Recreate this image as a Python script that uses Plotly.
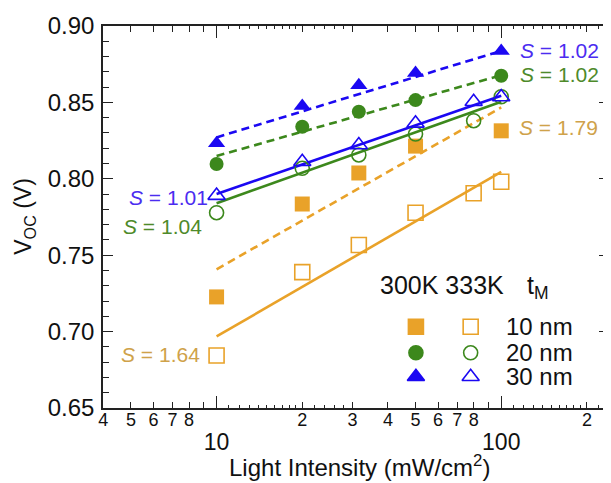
import math
import plotly.graph_objects as go

# ---------------- data ----------------
x_300K = [10, 20, 31.6, 50, 100]
x_333K = [10, 20, 31.6, 50, 80, 100]

voc_10nm_300K = [0.7227, 0.7835, 0.8038, 0.8214, 0.8314]
voc_10nm_333K = [0.6844, 0.7389, 0.7567, 0.7778, 0.7905, 0.7981]
voc_20nm_300K = [0.8097, 0.8341, 0.8439, 0.8515, 0.8674]
voc_20nm_333K = [0.7778, 0.8069, 0.8156, 0.8293, 0.8380, 0.8537]
voc_30nm_300K = [0.8232, 0.8476, 0.8613, 0.8693, 0.8837]
voc_30nm_333K = [0.7890, 0.8112, 0.8221, 0.8363, 0.8504, 0.8535]

fit_x = [10, 100]
fit_10nm_300K = [0.7408, 0.8467]
fit_10nm_333K = [0.6968, 0.8046]
fit_20nm_300K = [0.8149, 0.8678]
fit_20nm_333K = [0.7840, 0.8504]
fit_30nm_300K = [0.8271, 0.8837]
fit_30nm_333K = [0.7901, 0.8543]

slope_labels = ["S = 1.02", "S = 1.02", "S = 1.79", "S = 1.01", "S = 1.04", "S = 1.64"]

thickness_labels = ["10 nm", "20 nm", "30 nm"]
temp_labels = ["300K", "333K"]

x_tick_vals = [4, 5, 6, 7, 8, 20, 30, 40, 50, 60, 70, 80, 200]
x_tick_text = ["4", "5", "6", "7", "8", "2", "3", "4", "5", "6", "7", "8", "2"]
x_plain_vals = [9, 90]
x_minor_vals = [11, 12, 13, 14, 15, 16, 17, 18, 19, 22, 24, 26, 28,
                110, 120, 130, 140, 150, 160, 170, 180, 190, 220]
x_major_vals = [10, 100]
x_major_text = ["10", "100"]
y_tick_vals = [0.65, 0.70, 0.75, 0.80, 0.85, 0.90]

# ---------------- style ----------------
ORANGE = "#E9A229"
GREEN = "#3C881C"
BLUE = "#1B08F2"
T_ORANGE = "#CFA24A"
T_GREEN = "#4E8A2A"
T_BLUE = "#4B2CF0"
AX = "#222222"
FONT = "Liberation Sans, Arial, sans-serif"

OFF = 8                      # default page body margin
W, H = 611 - OFF, 483 - OFF  # figure size (fills the window after the offset)
L = 102.6 - OFF
R = 0
T = 25.8 - OFF
B = H - (408.3 - OFF)
PW, PH = W - L - R, H - T - B
XLO = math.log10(3.99)
XHI = XLO + PW / 286.0


def px(xpix):
    """screen x pixel -> paper fraction"""
    return (xpix - OFF - L) / PW


def py(ypix):
    """screen y pixel -> paper fraction"""
    return (H - B - (ypix - OFF)) / PH


fig = go.Figure()

series = [
    (x_300K, voc_10nm_300K, "square", ORANGE, True),
    (x_333K, voc_10nm_333K, "square-open", ORANGE, False),
    (x_300K, voc_20nm_300K, "circle", GREEN, True),
    (x_333K, voc_20nm_333K, "circle-open", GREEN, False),
    (x_300K, voc_30nm_300K, "triangle-up", BLUE, True),
    (x_333K, voc_30nm_333K, "triangle-up-open", BLUE, False),
]
fits = [
    (fit_10nm_300K, ORANGE, "dash"),
    (fit_10nm_333K, ORANGE, "solid"),
    (fit_20nm_300K, GREEN, "dash"),
    (fit_20nm_333K, GREEN, "solid"),
    (fit_30nm_300K, BLUE, "dash"),
    (fit_30nm_333K, BLUE, "solid"),
]

for yv, col, dash in fits:
    fig.add_trace(go.Scatter(
        x=fit_x, y=yv, mode="lines", showlegend=False, hoverinfo="skip",
        line=dict(color=col, width=2.6, dash="8px,5px" if dash == "dash" else "solid")))

for xv, yv, sym, col, filled in series:
    size = 14 if "circle" in sym else 15
    fig.add_trace(go.Scatter(
        x=xv, y=yv, mode="markers", showlegend=False,
        marker=dict(symbol=sym, size=size, color=col,
                    line=dict(color=col, width=1.6 if not filled else 0))))

# empty traces bound to the overlay axes carrying extra tick marks
fig.add_trace(go.Scatter(x=[], y=[], xaxis="x2", yaxis="y", showlegend=False))
fig.add_trace(go.Scatter(x=[], y=[], xaxis="x4", yaxis="y", showlegend=False))

# legend glyphs on a hidden 0..1 overlay axis
leg_cols = [px(417), px(472)]
leg_rows = [py(327), py(353), py(377)]
leg_syms = [("square", "square-open", ORANGE, 15),
            ("circle", "circle-open", GREEN, 14),
            ("triangle-up", "triangle-up-open", BLUE, 15)]
for (s_f, s_o, col, sz), ry in zip(leg_syms, leg_rows):
    fig.add_trace(go.Scatter(
        x=leg_cols, y=[ry, ry], mode="markers", xaxis="x3", yaxis="y3",
        showlegend=False, hoverinfo="skip",
        marker=dict(symbol=[s_f, s_o], size=sz, color=col,
                    line=dict(color=col, width=1.6))))

ann = []
# slope labels
slope_pos = [
    (520, 50, "left", T_BLUE),
    (520, 74, "left", T_GREEN),
    (519, 127, "left", T_ORANGE),
    (210, 198, "right", T_BLUE),
    (204, 227, "right", T_GREEN),
    (202, 355, "right", T_ORANGE),
]
for txt, (xp, yp, anc, col) in zip(slope_labels, slope_pos):
    ann.append(dict(x=px(xp), y=py(yp), xref="paper", yref="paper",
                    text="<i>S</i>" + txt[1:], showarrow=False,
                    xanchor=anc, yanchor="middle",
                    font=dict(family=FONT, size=21, color=col)))

# legend texts
ann.append(dict(x=px(379), y=py(285), xref="paper", yref="paper",
                text=temp_labels[0] + " " + temp_labels[1], showarrow=False,
                xanchor="left", yanchor="middle",
                font=dict(family=FONT, size=25, color="#111")))
ann.append(dict(x=px(527), y=py(287), xref="paper", yref="paper",
                text="t<sub>M</sub>", showarrow=False,
                xanchor="left", yanchor="middle",
                font=dict(family=FONT, size=25, color="#111")))
for txt, ry in zip(thickness_labels, leg_rows):
    ann.append(dict(x=px(505), y=ry, xref="paper", yref="paper",
                    text=txt, showarrow=False, xanchor="left", yanchor="middle",
                    font=dict(family=FONT, size=24, color="#111")))

# axis titles
ann.append(dict(x=px(360), y=py(466), xref="paper", yref="paper",
                text="Light Intensity (mW/cm<sup>2</sup>)", showarrow=False,
                xanchor="center", yanchor="middle",
                font=dict(family=FONT, size=24, color="#111")))
ann.append(dict(x=px(24), y=py(216), xref="paper", yref="paper",
                text="V<sub>OC</sub> (V)", showarrow=False, textangle=-90,
                xanchor="center", yanchor="middle",
                font=dict(family=FONT, size=23, color="#111")))

common_x = dict(type="log", range=[XLO, XHI], showgrid=False, zeroline=False)

fig.update_layout(
    width=W, height=H, autosize=False,
    margin=dict(l=L, r=R, t=T, b=B, pad=0),
    paper_bgcolor="white", plot_bgcolor="white",
    showlegend=False,
    annotations=ann,
    xaxis=dict(
        **common_x,
        tickmode="array", tickvals=x_tick_vals, ticktext=x_tick_text,
        ticks="inside", ticklen=6, tickwidth=1.3, tickcolor=AX,
        showline=True, linecolor=AX, linewidth=1.6, mirror="ticks",
        ticklabelstandoff=-5,
        tickfont=dict(family="Liberation Sans Narrow, " + FONT, size=18, color="#111"),
        minor=dict(tickmode="array", tickvals=x_minor_vals, ticks="inside",
                   ticklen=3, tickwidth=1.2, tickcolor=AX, showgrid=False),
    ),
    xaxis2=dict(
        **common_x, overlaying="x", anchor="y", side="bottom",
        tickmode="array", tickvals=x_major_vals, ticktext=x_major_text,
        ticks="inside", ticklen=12, tickwidth=1.4, tickcolor=AX,
        showline=False, mirror="ticks",
        ticklabelstandoff=18,
        tickfont=dict(family=FONT, size=23, color="#111"),
    ),
    xaxis4=dict(
        **common_x, overlaying="x", anchor="y", side="bottom",
        tickmode="array", tickvals=x_plain_vals, showticklabels=False,
        ticks="inside", ticklen=6, tickwidth=1.3, tickcolor=AX,
        showline=False, mirror="ticks",
    ),
    yaxis=dict(
        range=[0.65, 0.90], tickmode="array", tickvals=y_tick_vals,
        tickformat=".2f",
        ticks="inside", ticklen=10, tickwidth=1.4, tickcolor=AX,
        showline=True, linecolor=AX, linewidth=1.6, mirror="ticks",
        showgrid=False, zeroline=False,
        ticklabelstandoff=2,
        tickfont=dict(family=FONT, size=24, color="#111"),
        minor=dict(dtick=0.01, ticks="inside", ticklen=6, tickwidth=1.2,
                   tickcolor=AX, showgrid=False),
    ),
    xaxis3=dict(overlaying="x", range=[0, 1], visible=False, anchor="y3"),
    yaxis3=dict(overlaying="y", range=[0, 1], visible=False, anchor="x3"),
)

fig.write_html("out.html")
